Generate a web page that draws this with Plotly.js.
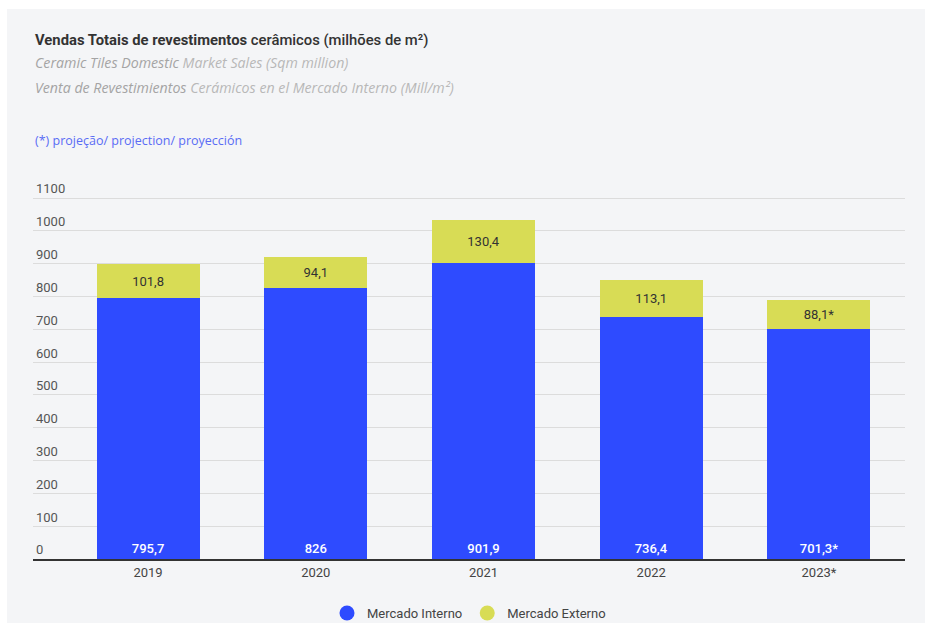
<!DOCTYPE html>
<html><head><meta charset="utf-8">
<script src="https://cdn.plot.ly/plotly-3.0.1.min.js"></script>
<style>
html,body{margin:0;padding:0;background:#ffffff;width:925px;height:623px;overflow:hidden;}
#bg{position:absolute;left:7px;top:9px;right:0;bottom:0;background:#f4f5f7;}
#chart{position:absolute;left:0;top:0;width:925px;height:623px;}
</style></head>
<body><div id="bg"></div><div id="chart"></div>
<script>
const years = ["2019", "2020", "2021", "2022", "2023*"];
const interno = [795.7, 826, 901.9, 736.4, 701.3];
const externo = [101.8, 94.1, 130.4, 113.1, 88.1];
const internoLabels = ["795,7", "826", "901,9", "736,4", "701,3*"];
const externoLabels = ["101,8", "94,1", "130,4", "113,1", "88,1*"];
const yTicks = [0, 100, 200, 300, 400, 500, 600, 700, 800, 900, 1000, 1100];

const BLUE = "#2e4bff", YEL = "#d8dc55";
const ML = 33, MR = 20, MT = 182, MB = 64, H = 623;
const plotH = H - MT - MB;
const yTop = plotH / (361 / 1100);
function py(p){ return (H - MB - p) / plotH; }

const traces = [
  {type:"bar", x: years, y: interno, name:"Mercado Interno", marker:{color:BLUE},
   text: internoLabels, textposition:"inside", insidetextanchor:"start",
   textfont:{family:"Roboto", size:13, color:"#ffffff", weight:500}, width:0.614,
   showlegend:false, hoverinfo:"skip", constraintext:"none"},
  {type:"bar", x: years, y: externo, name:"Mercado Externo", marker:{color:YEL},
   text: externoLabels, textposition:"inside", insidetextanchor:"middle",
   textfont:{family:"Roboto", size:13, color:"#333333"}, width:0.614,
   showlegend:false, hoverinfo:"skip", constraintext:"none"},
  {type:"scatter", mode:"markers", x:[null], y:[null], name:"Mercado Interno",
   marker:{color:BLUE, size:15, symbol:"circle"}},
  {type:"scatter", mode:"markers", x:[null], y:[null], name:"Mercado Externo",
   marker:{color:YEL, size:15, symbol:"circle"}}
];

const layout = {
  width:925, height:623,
  margin:{l:ML, r:MR, t:MT, b:MB, pad:0, autoexpand:false},
  paper_bgcolor:"rgba(0,0,0,0)", plot_bgcolor:"rgba(0,0,0,0)",
  barmode:"stack",
  font:{family:"Roboto", color:"#444"},
  xaxis:{type:"category", range:[-0.686, 4.513], showgrid:false, zeroline:false,
    showline:true, linecolor:"#333", linewidth:2, ticks:"",
    tickfont:{family:"Roboto", size:13, color:"#444"}, fixedrange:true},
  yaxis:{range:[0, yTop], tickvals:yTicks, ticktext:yTicks.map(String),
    showgrid:true, gridcolor:"#dcdcdc", gridwidth:1, zeroline:false,
    ticklabelposition:"inside top", ticklabelstandoff:0, ticklabeloverflow:"allow",
    tickfont:{family:"Roboto", size:13, color:"#555"}, fixedrange:true},
  showlegend:true,
  legend:{orientation:"h", traceorder:"normal", x:0.5, xanchor:"center",
    yref:"container", y:(H - 613) / H, yanchor:"middle",
    font:{family:"Roboto", size:13, color:"#444"}, itemclick:false, itemdoubleclick:false,
    bgcolor:"rgba(0,0,0,0)"},
  annotations:[
    {xref:"paper", yref:"paper", x:0, xanchor:"left", y:py(40), yanchor:"middle", showarrow:false,
     text:"<b>Vendas Totais de revestimentos</b> cerâmicos (milhões de m²)",
     font:{family:"Roboto", size:14.8, color:"#333", weight:500}},
    {xref:"paper", yref:"paper", x:0, xanchor:"left", y:py(63), yanchor:"middle", showarrow:false,
     text:"<i><span style='color:#a4a4a4'>Ceramic Tiles Domestic</span> Market Sales (Sqm million)</i>",
     font:{family:"Open Sans", size:14.2, color:"#b8b8b8"}},
    {xref:"paper", yref:"paper", x:0, xanchor:"left", y:py(87), yanchor:"middle", showarrow:false,
     text:"<i><span style='color:#a4a4a4'>Venta de Revestimientos</span> Cerámicos en el Mercado Interno (Mill/m²)</i>",
     font:{family:"Open Sans", size:14.2, color:"#b8b8b8"}},
    {xref:"paper", yref:"paper", x:0, xanchor:"left", y:py(141), yanchor:"middle", showarrow:false,
     text:"(*) projeção/ projection/ proyección",
     font:{family:"Open Sans", size:12.5, color:"#5a6cf5"}}
  ]
};
Plotly.newPlot("chart", traces, layout, {displayModeBar:false, staticPlot:true});
</script></body></html>
